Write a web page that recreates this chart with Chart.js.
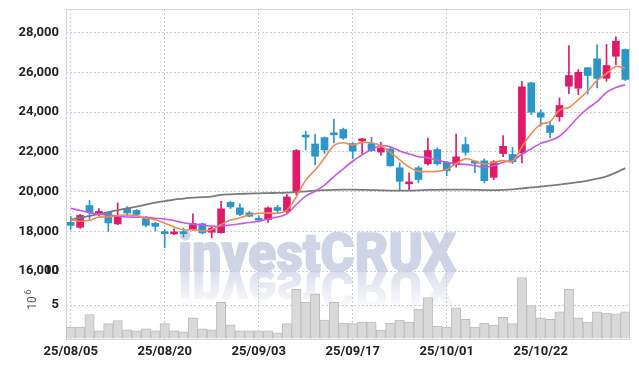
<!DOCTYPE html>
<html>
<head>
<meta charset="utf-8">
<script src="https://cdn.jsdelivr.net/npm/chart.js@4.4.1/dist/chart.umd.min.js"></script>
<style>
  html, body { margin: 0; padding: 0; background: #fff; }
  #wrap { width: 639px; height: 366px; position: relative; }
</style>
</head>
<body>
<div id="wrap"><canvas id="stockChart"></canvas></div>
<script>
// trading days (yy/mm/dd)
const dates = [
  '25/08/05','25/08/06','25/08/07','25/08/08','25/08/11','25/08/12','25/08/13','25/08/14','25/08/18','25/08/19',
  '25/08/20','25/08/21','25/08/22','25/08/25','25/08/26','25/08/27','25/08/28','25/08/29','25/09/01','25/09/02',
  '25/09/03','25/09/04','25/09/05','25/09/08','25/09/09','25/09/10','25/09/11','25/09/12','25/09/15','25/09/16',
  '25/09/17','25/09/18','25/09/19','25/09/22','25/09/23','25/09/24','25/09/25','25/09/26','25/09/29','25/09/30',
  '25/10/01','25/10/02','25/10/10','25/10/13','25/10/14','25/10/15','25/10/16','25/10/17','25/10/20','25/10/21',
  '25/10/22','25/10/23','25/10/24','25/10/27','25/10/28','25/10/29','25/10/30','25/10/31','25/11/03','25/11/04'
];

const open = [
  18450,18200,19300,18850,18950,18370,19150,19050,18680,18400,
  17900,17870,17900,18090,18380,17950,17930,19460,19180,18930,
  18650,18590,19200,19010,20000,22780,22400,22720,22960,23130,
  22420,22560,22420,21990,22150,21200,20390,21200,21400,22120,
  21480,21360,22370,21470,21550,20720,21920,21870,21950,25480,
  23970,23330,23770,25310,25210,26240,26690,25710,26820,27160
];
const high = [
  18750,18850,19550,19150,19000,19430,19250,19100,18750,18450,
  18080,18120,18170,18880,18420,18250,19510,19500,19380,19000,
  18790,19230,19310,19850,22120,23050,22900,22750,23660,23200,
  22460,22670,22740,22480,22270,21450,20940,21280,22700,22200,
  21530,22900,22740,21500,21650,21560,22820,22230,25560,25510,
  24130,23530,24720,27360,26150,26250,27410,27410,27800,27190
];
const low = [
  18100,18150,18600,18780,18000,18330,18780,18800,18220,18030,
  17170,17830,17720,18050,17870,17670,17900,19150,18790,18730,
  18470,18450,18930,18930,19850,22100,21350,21920,22450,22630,
  21650,21870,22030,21820,21280,20100,20100,20440,21330,21330,
  20800,21230,21830,20950,20440,20600,21760,21410,21450,23880,
  23300,22710,23540,24930,24890,24910,25230,25560,26400,25600
];
const close = [
  18300,18800,18950,19000,18420,18770,18920,18850,18300,18250,
  17880,17970,17880,18390,17920,18150,19130,19230,18850,18760,
  18560,19180,19050,19730,22070,22750,21780,22100,22860,22700,
  22040,22650,22060,22200,21300,20520,20470,20610,22070,21400,
  21050,21750,21980,21430,20550,21500,22280,21500,25280,24000,
  23750,22980,24340,25850,26010,25850,25700,26350,27580,25650
];
// volume in millions of shares
const volume = [
  1.75,1.75,3.6,1.2,2.25,2.7,1.35,1.2,1.5,1.2,
  2.25,1.2,1.05,3.1,1.5,1.35,5.4,2.1,1.2,1.2,
  1.2,1.2,0.9,2.25,7.3,5.4,6.6,2.8,5.4,2.35,
  2.25,2.5,2.5,1.3,2.35,2.8,2.5,4.4,6.1,1.9,
  1.75,4.6,2.9,1.75,2.35,2.05,3.2,2.25,9.05,4.9,
  3.1,2.9,4.0,7.3,3.1,2.5,4.0,3.8,3.7,4.0
];
// moving averages
const ma5 = [
  18590,18510,18560,18720,18720,18800,18820,18790,18660,18580,
  18400,18220,18070,18080,18020,18080,18340,18570,18680,18830,
  18910,18930,18910,19070,19740,20580,21090,21690,22320,22460,
  22350,22480,22460,22310,21980,21600,21230,21020,21010,21020,
  21110,21410,21650,21540,21380,21470,21560,21530,22250,22930,
  23390,23520,24110,24240,24630,25070,25600,25950,26300,26230
];
const ma10 = [
  19160,19050,18940,18860,18820,18760,18720,18710,18700,18660,
  18620,18540,18430,18360,18310,18260,18270,18320,18380,18440,
  18510,18620,18720,18880,19350,19770,20020,20330,20760,21150,
  21530,21850,22120,22320,22260,22050,21900,21760,21700,21580,
  21480,21400,21370,21300,21230,21300,21480,21570,21880,22160,
  22430,22570,22790,23240,23760,24190,24530,25000,25250,25380
];
const ma60 = [
  18590,18690,18770,18870,18970,19070,19160,19245,19345,19445,
  19520,19600,19650,19700,19720,19750,19835,19865,19885,19900,
  19915,19925,19935,19950,19975,20015,20050,20075,20090,20100,
  20100,20090,20075,20065,20050,20050,20050,20065,20085,20090,
  20100,20100,20100,20090,20075,20075,20090,20115,20160,20210,
  20250,20300,20355,20415,20480,20555,20650,20770,20960,21185
];
const priceTicks = [16000, 18000, 20000, 22000, 24000, 26000, 28000];
const volumeTicks = [0, 5, 10];

const UP = '#e2196b';
const DOWN = '#2b96c8';
const GRID = '#c6cbdb';
const candleColors = close.map((c, i) => c > open[i] ? UP : DOWN);

const tickFont = { family: 'Roboto', size: 13, weight: 'bold' };

// watermark + its reflection, behind the grid
const watermark = {
  id: 'watermark',
  beforeDraw(chart) {
    const { ctx, chartArea, scales } = chart;
    const base = scales.y.bottom;
    const x = chartArea.left + 112;
    const text = 'investCRUX';
    const col = '#cfd4e7';
    ctx.save();
    ctx.font = '900 53px Roboto';
    const w = ctx.measureText(text).width;
    const sx = 278 / w;
    ctx.fillStyle = col;
    ctx.strokeStyle = col;
    ctx.lineWidth = 1.5;
    ctx.lineJoin = 'round';
    ctx.translate(x, base);
    ctx.scale(sx, 1);
    ctx.fillText(text, 0, 0);
    ctx.strokeText(text, 0, 0);
    ctx.restore();

    ctx.save();
    ctx.beginPath();
    ctx.rect(0, base, chart.width, 36);
    ctx.clip();
    ctx.font = '900 53px Roboto';
    ctx.translate(x, base);
    ctx.scale(sx, -1);
    const g = ctx.createLinearGradient(0, 0, 0, -36);
    g.addColorStop(0, 'rgba(207, 212, 231, 0.75)');
    g.addColorStop(1, 'rgba(207, 212, 231, 0.1)');
    ctx.fillStyle = g;
    ctx.fillText(text, 0, 0);
    ctx.restore();
  },
  beforeDatasetsDraw(chart) {
    const { ctx, chartArea } = chart;
    ctx.save();
    ctx.strokeStyle = '#d4d6dc';
    ctx.lineWidth = 1;
    ctx.strokeRect(chartArea.left + 0.5, chartArea.top + 0.5, chartArea.width - 1, chartArea.height);
    ctx.restore();
  },
  afterDraw(chart) {
    const { ctx, scales } = chart;
    const mid = (scales.yv.top + scales.yv.bottom) / 2 - 4;
    ctx.save();
    ctx.translate(33, mid);
    ctx.rotate(-Math.PI / 2);
    ctx.fillStyle = '#555';
    ctx.textBaseline = 'middle';
    ctx.textAlign = 'center';
    ctx.font = '12px Roboto';
    ctx.fillText('10', -2, 0);
    ctx.font = '9px Roboto';
    ctx.fillText('6', 9, -4);
    ctx.restore();
  }
};

// y axes: fixed width, no extra room for half labels
const fitY = s => { s.width = 66; s.paddingTop = 0; s.paddingBottom = 0; };

const ctx = document.getElementById('stockChart').getContext('2d');
new Chart(ctx, {
  data: {
    labels: dates,
    datasets: [
      { type: 'line', data: ma5, borderColor: '#f08a4e', borderWidth: 1.6, pointRadius: 0, tension: 0.35, yAxisID: 'y' },
      { type: 'line', data: ma10, borderColor: '#c957e6', borderWidth: 1.6, pointRadius: 0, tension: 0.35, yAxisID: 'y' },
      { type: 'line', data: ma60, borderColor: '#7b7b7b', borderWidth: 1.8, pointRadius: 0, tension: 0.35, yAxisID: 'y' },
      {
        type: 'bar', yAxisID: 'y', grouped: false,
        data: open.map((o, i) => [o, close[i]]),
        backgroundColor: candleColors, barThickness: 7, minBarLength: 2
      },
      {
        type: 'bar', yAxisID: 'y', grouped: false,
        data: low.map((l, i) => [l, high[i]]),
        backgroundColor: candleColors, barThickness: 1
      },
      {
        type: 'bar', yAxisID: 'yv', grouped: false,
        data: volume,
        backgroundColor: '#d9d9d9', borderColor: '#bdbdbd', borderWidth: 1,
        barPercentage: 1, categoryPercentage: 1
      }
    ]
  },
  options: {
    responsive: true,
    maintainAspectRatio: false,
    animation: false,
    layout: { padding: { top: 9, right: 9, left: 0, bottom: 0 } },
    plugins: { legend: { display: false }, tooltip: { enabled: false } },
    scales: {
      x: {
        type: 'category',
        offset: true,
        grid: { offset: false, color: GRID, drawTicks: false },
        border: { display: false, dash: [2, 2] },
        afterBuildTicks: s => { s.ticks = s.ticks.filter(t => t.value % 10 === 0); },
        afterFit: s => { s.height = 27; s.paddingLeft = 0; s.paddingRight = 0; },
        ticks: {
          autoSkip: false, maxRotation: 0, padding: 5, color: '#222', font: tickFont,
          callback: v => dates[v]
        }
      },
      // volume axis listed first so the price panel sits on top of the stack
      yv: {
        position: 'left', stack: 'main', stackWeight: 68,
        min: 0, max: 10,
        grid: { color: GRID, drawTicks: false },
        border: { display: false, dash: [2, 2] },
        afterBuildTicks: s => { s.ticks = volumeTicks.map(v => ({ value: v })); },
        afterFit: fitY,
        ticks: { autoSkip: false, padding: 7, color: '#222', font: tickFont, callback: v => v === 0 ? '' : v }
      },
      y: {
        position: 'left', stack: 'main', stackWeight: 262,
        min: 16000, max: 29200,
        grid: { color: GRID, drawTicks: false },
        border: { display: false, dash: [2, 2] },
        afterBuildTicks: s => { s.ticks = priceTicks.map(v => ({ value: v })); },
        afterFit: fitY,
        ticks: { autoSkip: false, padding: 7, color: '#222', font: tickFont, callback: v => v.toLocaleString('en-US') }
      }
    }
  },
  plugins: [watermark]
});
</script>
</body>
</html>
